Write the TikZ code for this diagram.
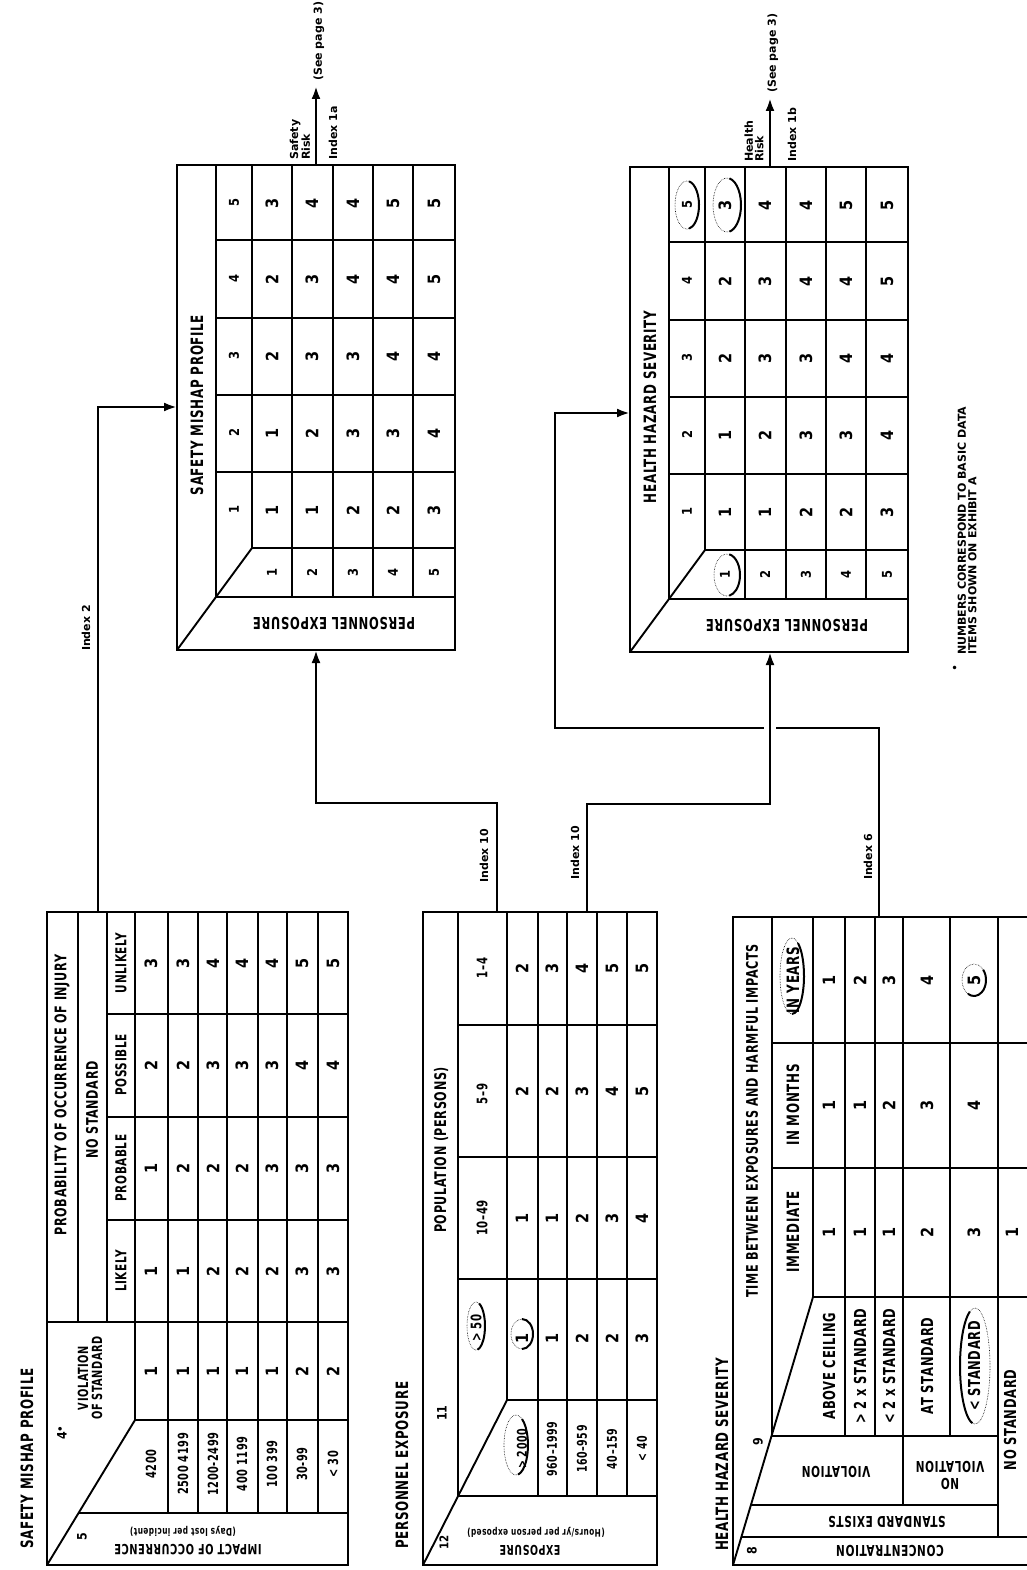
\documentclass[tikz,border=0pt]{standalone}
\usepackage{fontspec}
\setmainfont{DejaVu Sans}
\newfontfamily\cn{DejaVu Sans}[FakeStretch=0.7,LetterSpace=4]
\newfontfamily\dg{DejaVu Sans}[FakeStretch=0.85]
\usetikzlibrary{arrows.meta}
\newcommand{\handring}[6]{%
  \draw[line width=0.6pt, densely dotted] (#1,#2) ellipse[x radius=#3, y radius=#4];
  \draw[line width=2pt] (#1,#2) ++(#5:#3 and #4) arc[start angle=#5, end angle=#6, x radius=#3, y radius=#4];}
\begin{document}
\begin{tikzpicture}[x=1pt,y=-1pt,
  every node/.style={inner sep=1pt},
  outer/.style={line width=2.8pt},
  inner/.style={line width=1.9pt},
  conn/.style={line width=2.8pt},
  arr/.style={-{Latex[length=13pt,width=9pt]}},
  num/.style={rotate=90, font=\dg\bfseries\fontsize{17}{17}\selectfont},
  hnum/.style={rotate=90, font=\dg\bfseries\fontsize{13.5}{13.5}\selectfont},
  mk/.style={rotate=90, font=\dg\bfseries\fontsize{13}{13}\selectfont},
  title/.style={rotate=90, anchor=west, font=\cn\bfseries\fontsize{17}{17}\selectfont},
  head/.style={rotate=90, font=\cn\bfseries\fontsize{16}{18}\selectfont, align=center},
  sub/.style={rotate=90, font=\cn\bfseries\fontsize{15}{17}\selectfont, align=center},
  subb/.style={rotate=90, font=\cn\bfseries\fontsize{14.5}{14.5}\selectfont},
  subc/.style={rotate=90, font=\cn\bfseries\fontsize{17}{17}\selectfont},
  rlab/.style={rotate=90, font=\cn\bfseries\fontsize{14}{14}\selectfont},
  rlabb/.style={rotate=90, font=\cn\bfseries\fontsize{13.5}{13.5}\selectfont},
  rlabc/.style={rotate=90, font=\cn\bfseries\fontsize{16.5}{16.5}\selectfont},
  flip/.style={rotate=180, font=\cn\bfseries\fontsize{15}{15}\selectfont},
  flips/.style={rotate=180, font=\cn\bfseries\fontsize{10.5}{10.5}\selectfont},
  idx/.style={rotate=90, font=\bfseries\fontsize{11}{11}\selectfont},
  risk/.style={rotate=90, anchor=west, align=left, font=\bfseries\fontsize{11}{10.5}\selectfont},
]
\fill[white] (0,0) rectangle (1026,1570);
\useasboundingbox (0,0) rectangle (1026,1570);

% ================= TABLE 1 : SAFETY MISHAP PROFILE (input) =================
\draw[outer] (47,912) rectangle (348,1565);
\draw[inner] (78,912) -- (78,1322);
\draw[inner] (107,912) -- (107,1322);
\draw[inner] (135,912) -- (135,1420);
\foreach \x in {168,198,227,258,287,318} \draw[inner] (\x,912) -- (\x,1513);
\foreach \y in {1014,1117,1220} \draw[inner] (107,\y) -- (348,\y);
\draw[inner] (47,1322) -- (348,1322);
\draw[inner] (135,1420) -- (348,1420);
\draw[inner] (79,1513) -- (348,1513);
\draw[inner] (47,1565) -- (135,1420);

\node[title] (t1title) at (27,1550) {SAFETY MISHAP PROFILE};
\node[head] (t1prob) at (62,1095) {PROBABILITY OF OCCURRENCE OF INJURY};
\node[head] (t1nostd) at (92,1110) {NO STANDARD};
\node[sub] (t1c1) at (121,1271) {LIKELY};
\node[sub] (t1c2) at (121,1168) {PROBABLE};
\node[sub] (t1c3) at (121,1065) {POSSIBLE};
\node[sub] (t1c4) at (121,963) {UNLIKELY};
\node[rotate=90, align=center, font=\cn\bfseries\fontsize{14}{14}\selectfont] (t1viol) at (90,1378) {VIOLATION\\OF STANDARD};
\node[mk] (t1m4) at (62,1433) {4$^{\bullet}$};
\node[mk] (t1m5) at (82,1537) {5};
\node[flip, font=\cn\bfseries\fontsize{14}{14}\selectfont] (t1imp1) at (188,1550) {IMPACT OF OCCURRENCE};
\node[flips] (t1imp2) at (183,1531) {(Days lost per incident)};
\foreach \x/\t [count=\i] in {151/4200, 183/2500 4199, 213/1200-2499, 242/400 1199, 272/100 399, 302/30-99, 333/< 30}
  \node[rlab] (t1rl\i) at (\x,1464) {\t};
\foreach \x/\va/\vb/\vc/\vd/\ve [count=\i] in {151/1/1/1/2/3, 183/1/1/2/2/3, 213/1/2/2/3/4, 242/1/2/2/3/4, 272/1/2/3/3/4, 302/2/3/3/4/5, 333/2/3/3/4/5} {
  \node[num] (t1d\i v) at (\x,1371) {\va};
  \node[num] (t1d\i a) at (\x,1271) {\vb};
  \node[num] (t1d\i b) at (\x,1168) {\vc};
  \node[num] (t1d\i c) at (\x,1065) {\vd};
  \node[num] (t1d\i d) at (\x,963) {\ve};
}

% ================= TABLE 2 : PERSONNEL EXPOSURE (input) =================
\draw[outer] (423,912) rectangle (657,1565);
\draw[inner] (458,912) -- (458,1496);
\draw[inner] (507,912) -- (507,1400);
\foreach \x in {538,567,597,627} \draw[inner] (\x,912) -- (\x,1496);
\foreach \y in {1025,1157,1279} \draw[inner] (458,\y) -- (657,\y);
\draw[inner] (507,1400) -- (657,1400);
\draw[inner] (458,1496) -- (657,1496);
\draw[inner] (423,1565) -- (507,1400);

\node[title] (t2title) at (402,1550) {PERSONNEL EXPOSURE};
\node[head] (t2pop) at (441,1150) {POPULATION (PERSONS)};
\node[mk] (t2m11) at (442,1413) {11};
\node[mk, font=\dg\bfseries\fontsize{12}{12}\selectfont] (t2m12) at (444,1542) {12};
\node[subb] (t2c1) at (476,1328) {> 50};
\node[subb] (t2c2) at (482,1218) {10\textendash49};
\node[subb] (t2c3) at (482,1094) {5\textendash9};
\node[subb] (t2c4) at (482,968) {1\textendash4};
\foreach \x/\t [count=\i] in {522/> 2000, 552/960\textendash1999, 582/160\textendash959, 612/40\textendash159, 642/< 40}
  \node[rlabb] (t2rl\i) at (\x,1449) {\t};
\node[flip, font=\cn\bfseries\fontsize{13.5}{13.5}\selectfont] (t2exp1) at (530,1550) {EXPOSURE};
\node[flips] (t2exp2) at (536,1532) {(Hours/yr per person exposed)};
\foreach \x/\va/\vb/\vc/\vd [count=\i] in {522/1/1/2/2, 552/1/1/2/3, 582/2/2/3/4, 612/2/3/4/5, 642/3/4/5/5} {
  \node[num] (t2d\i a) at (\x,1338) {\va};
  \node[num] (t2d\i b) at (\x,1218) {\vb};
  \node[num] (t2d\i c) at (\x,1091) {\vc};
  \node[num] (t2d\i d) at (\x,968) {\vd};
}

% ================= TABLE 3 : HEALTH HAZARD SEVERITY (input) =================
\draw[outer] (1040,917) -- (733,917) -- (733,1565) -- (1040,1565);
\draw[inner] (772,917) -- (772,1436);
\draw[inner] (813,917) -- (813,1297);
\foreach \x in {845,875,950} \draw[inner] (\x,917) -- (\x,1436);
\draw[inner] (903,917) -- (903,1505);
\draw[inner] (998,917) -- (998,1537);
\foreach \y in {1043,1168} \draw[inner] (772,\y) -- (1040,\y);
\draw[inner] (813,1297) -- (1040,1297);
\draw[inner] (771.5,1436) -- (998,1436);
\draw[inner] (750.9,1505) -- (998,1505);
\draw[inner] (741.4,1537) -- (1040,1537);
\draw[inner] (733,1565) -- (813,1297);

\node[title] (t3title) at (722,1552) {HEALTH HAZARD SEVERITY};
\node[head] (t3time) at (752,1121) {TIME BETWEEN EXPOSURES AND HARMFUL IMPACTS};
\node[mk] (t3m9) at (758,1442) {9};
\node[mk] (t3m8) at (752,1551) {8};
\node[subc] (t3c1) at (793,1232) {IMMEDIATE};
\node[subc] (t3c2) at (793,1105) {IN MONTHS};
\node[subc] (t3c3) at (793,980) {IN YEARS};
\foreach \x/\t [count=\i] in {829/ABOVE CEILING, 860/> 2 x STANDARD, 889/< 2 x STANDARD, 927/AT STANDARD, 974/< STANDARD}
  \node[rlabc] (t3rl\i) at (\x,1366) {\t};
\node[rlabc] (t3rl6) at (1010,1420) {NO STANDARD};
\node[flip] (t3viol) at (836,1472) {VIOLATION};
\node[flip] (t3nv1) at (950,1484) {NO};
\node[flip] (t3nv2) at (950,1467) {VIOLATION};
\node[flip] (t3std) at (887,1522) {STANDARD EXISTS};
\node[flip] (t3conc) at (890,1551) {CONCENTRATION};
\foreach \x/\va/\vb/\vc [count=\i] in {829/1/1/1, 860/1/1/2, 889/1/2/3, 927/2/3/4, 974/3/4/5} {
  \node[num] (t3d\i a) at (\x,1232) {\va};
  \node[num] (t3d\i b) at (\x,1105) {\vb};
  \node[num] (t3d\i c) at (\x,980) {\vc};
}
\node[num] (t3d6a) at (1012,1232) {1};

% ================= 3D RESULT TABLES =================
\foreach \p/\dx/\dy/\ttl in {s/0/0/SAFETY MISHAP PROFILE, h/453/2/HEALTH HAZARD SEVERITY} {
  \begin{scope}[shift={(\dx,\dy)}]
    \draw[outer] (177,165) rectangle (455,650);
    \draw[inner] (216,165) -- (216,597) -- (455,597);
    \draw[inner] (177,650) -- (252,548);
    \draw[inner] (252,165) -- (252,548) -- (455,548);
    \foreach \x in {292,333,373,413} \draw[inner] (\x,165) -- (\x,597);
    \foreach \y in {240,318,395,472} \draw[inner] (216,\y) -- (455,\y);
    \node[title, anchor=center] (\p title) at (197,405) {\ttl};
    \node[flip, font=\cn\bfseries\fontsize{16.5}{16.5}\selectfont] (\p pe) at (334,624) {PERSONNEL EXPOSURE};
    \foreach \y/\t in {203/5,279/4,356/3,433/2,510/1} \node[hnum] (\p h\t) at (234,\y) {\t};
    \foreach \x/\t in {272/1,312/2,353/3,393/4,434/5} \node[hnum] (\p r\t) at (\x,573) {\t};
    \foreach \x/\va/\vb/\vc/\vd/\ve [count=\i] in {272/1/1/2/2/3, 312/1/2/3/3/4, 353/2/3/3/4/4, 393/2/3/4/4/5, 434/3/4/4/5/5} {
      \node[num] (\p d\i a) at (\x,510) {\va};
      \node[num] (\p d\i b) at (\x,433) {\vb};
      \node[num] (\p d\i c) at (\x,356) {\vc};
      \node[num] (\p d\i d) at (\x,279) {\vd};
      \node[num] (\p d\i e) at (\x,203) {\ve};
    }
  \end{scope}
}

% ================= CONNECTORS =================
\coordinate (t1out) at (98,912);
\coordinate (s3in) at (177,407);
\coordinate (t2outA) at (497,912);
\coordinate (j1) at (497,803);
\coordinate (s3bot) at (316,650);
\coordinate (t2outB) at (587,912);
\coordinate (j2) at (587,804);
\coordinate (h3bot) at (770,652);
\coordinate (t3out) at (879,917);
\coordinate (k1) at (879,728);
\coordinate (k2) at (555,728);
\coordinate (k3) at (555,413);
\coordinate (h3in) at (630,413);
\coordinate (s3top) at (316,165);
\coordinate (s3tip) at (316,86);
\coordinate (h3top) at (770,167);
\coordinate (h3tip) at (770,98);

\draw[conn,arr] (t1out) |- (s3in);
\draw[conn,arr] (t2outA) -- (j1) -| (s3bot);
\draw[conn,arr] (t3out) -- (k1) -- (k2) -- (k3) -- (h3in);
\fill[white] (764,721) rectangle (776,735);
\draw[conn,arr] (t2outB) -- (j2) -| (h3bot);
\draw[conn,arr] (s3top) -- (s3tip);
\draw[conn,arr] (h3top) -- (h3tip);

\node[idx] (lbl2) at (86,628) {Index 2};
\node[idx] (lbl10a) at (484,856) {Index 10};
\node[idx] (lbl10b) at (575,853) {Index 10};
\node[idx] (lbl6) at (868,857) {Index 6};

\node[risk] (srisk) at (300,161) {Safety\\Risk};
\node[idx, anchor=west] (sidx) at (333,161) {Index 1a};
\node[idx, anchor=west] (ssee) at (319,82) {(See page 3)};
\node[risk] (hrisk) at (754,163) {Health\\Risk};
\node[idx, anchor=west] (hidx) at (792,163) {Index 1b};
\node[idx, anchor=west] (hsee) at (773,94) {(See page 3)};

% ================= FOOTNOTE =================
\node[rotate=90, font=\fontsize{12}{12}\selectfont] (fstar) at (956,668) {\textbullet};
\node[rotate=90, anchor=west, align=left, font=\bfseries\fontsize{11}{10.5}\selectfont] (foot) at (967,656) {NUMBERS CORRESPOND TO BASIC DATA\\ITEMS SHOWN ON EXHIBIT A};

% ================= HAND-DRAWN MARKS =================
\handring{476}{1326}{9}{24}{-70}{80}
\handring{522}{1334}{11}{15}{-90}{90}
\handring{516}{1445}{12}{30}{-60}{80}
\handring{792}{976}{12}{38}{-60}{90}
\handring{974}{980}{12}{16}{-40}{120}
\handring{975}{1366}{15}{58}{100}{250}
\handring{687}{205}{12}{24}{-80}{80}
\handring{727}{205}{14}{27}{-80}{80}
\handring{727}{575}{13}{21}{-80}{80}
\end{tikzpicture}
\end{document}
